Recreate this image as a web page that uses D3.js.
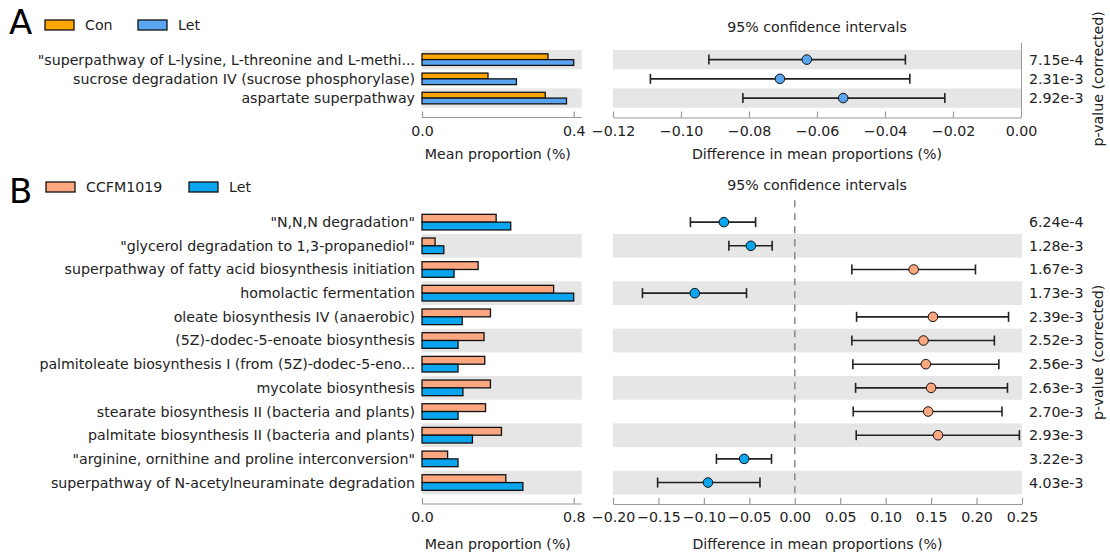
<!DOCTYPE html>
<html>
<head>
<meta charset="utf-8">
<script src="https://cdn.jsdelivr.net/npm/d3@7"></script>
<style>
  html, body { margin: 0; padding: 0; background: #fff; }
  svg text { font-family: "DejaVu Sans", sans-serif; fill: #222; }
</style>
</head>
<body>
<svg id="chart" width="1110" height="554"></svg>
<script>
// ---------- Panel A data ----------
const catsA = [
  '"superpathway of L-lysine, L-threonine and L-methi...',
  'sucrose degradation IV (sucrose phosphorylase)',
  'aspartate superpathway'
];
const conA = [0.332, 0.174, 0.325];
const letA = [0.400, 0.249, 0.381];
const diffA = [-0.063, -0.0709, -0.0523];
const lowA = [-0.0918, -0.109, -0.0818];
const highA = [-0.034, -0.0327, -0.0224];
const pA = ["7.15e-4", "2.31e-3", "2.92e-3"];
const groupsA = ["Con", "Let"];
const leftTicksA = [0.0, 0.4];
const rightTicksA = [-0.12, -0.10, -0.08, -0.06, -0.04, -0.02, 0.00];

// ---------- Panel B data ----------
const catsB = [
  '"N,N,N degradation"',
  '"glycerol degradation to 1,3-propanediol"',
  'superpathway of fatty acid biosynthesis initiation',
  'homolactic fermentation',
  'oleate biosynthesis IV (anaerobic)',
  '(5Z)-dodec-5-enoate biosynthesis',
  'palmitoleate biosynthesis I (from (5Z)-dodec-5-eno...',
  'mycolate biosynthesis',
  'stearate biosynthesis II (bacteria and plants)',
  'palmitate biosynthesis II (bacteria and plants)',
  '"arginine, ornithine and proline interconversion"',
  'superpathway of N-acetylneuraminate degradation'
];
const ccfmB = [0.391, 0.069, 0.296, 0.694, 0.361, 0.327, 0.331, 0.361, 0.335, 0.419, 0.135, 0.442];
const letB  = [0.468, 0.115, 0.169, 0.800, 0.212, 0.190, 0.190, 0.216, 0.190, 0.266, 0.190, 0.532];
const diffB = [-0.078, -0.0483, 0.1308, -0.110, 0.152, 0.1416, 0.1442, 0.150, 0.1468, 0.1576, -0.0557, -0.0955];
const lowB  = [-0.1148, -0.0725, 0.0628, -0.1676, 0.068, 0.0628, 0.0639, 0.0669, 0.0643, 0.0676, -0.0862, -0.1509];
const highB = [-0.0431, -0.0249, 0.1988, -0.0531, 0.2352, 0.2196, 0.2245, 0.234, 0.228, 0.2471, -0.0256, -0.0383];
const pB = ["6.24e-4", "1.28e-3", "1.67e-3", "1.73e-3", "2.39e-3", "2.52e-3", "2.56e-3", "2.63e-3", "2.70e-3", "2.93e-3", "3.22e-3", "4.03e-3"];
const groupsB = ["CCFM1019", "Let"];
const leftTicksB = [0.0, 0.8];
const rightTicksB = [-0.20, -0.15, -0.10, -0.05, 0.00, 0.05, 0.10, 0.15, 0.20, 0.25];

const svg = d3.select("#chart");
const fmtMinus = s => s.replace("-", "\u2212");
const FS = 14.2;

function panel(cfg) {
  const g = svg.append("g");
  const n = cfg.cats.length;
  const idx = d3.range(n);
  const y = d3.scaleBand().domain(idx).range([cfg.top, cfg.bottom]).paddingInner(0).paddingOuter(0);
  const xL = d3.scaleLinear().domain(cfg.leftDomain).range([422, 573.7]);
  const xR = d3.scaleLinear().domain(cfg.rightDomain).range([613, cfg.rightEnd]);
  const leftBandEnd = 581.7;
  const bandColor = "#e6e6e6";

  // panel letter
  g.append("text").attr("x", 9).attr("y", cfg.letterY).attr("font-size", 34).style("fill", "#000").text(cfg.letter);

  // legend
  const lg = g.append("g");
  cfg.groups.forEach((name, i) => {
    const x0 = cfg.legendX[i];
    lg.append("rect").attr("x", x0).attr("y", cfg.legendY - 5).attr("width", 29).attr("height", 10)
      .attr("fill", cfg.colors[i]).attr("stroke", "#111").attr("stroke-width", 1.3);
    lg.append("text").attr("x", x0 + 40).attr("y", cfg.legendY).attr("dy", "0.35em").attr("font-size", FS).text(name);
  });

  // bands
  idx.forEach(i => {
    if (i % 2 === cfg.bandParity) {
      g.append("rect").attr("x", 422).attr("y", y(i)).attr("width", leftBandEnd - 422).attr("height", y.bandwidth()).attr("fill", bandColor);
      g.append("rect").attr("x", 613).attr("y", y(i)).attr("width", cfg.rightEnd - 613).attr("height", y.bandwidth()).attr("fill", bandColor);
    }
  });

  // category labels
  g.selectAll(".cat").data(cfg.cats).join("text")
    .attr("x", 415).attr("y", (d, i) => y(i) + y.bandwidth() / 2).attr("dy", "0.35em")
    .attr("text-anchor", "end").attr("font-size", FS).text(d => d);

  // bars
  const bh = y.bandwidth() * cfg.barFrac;
  const mid = i => y(i) + y.bandwidth() / 2;
  [cfg.v1, cfg.v2].forEach((vals, k) => {
    g.selectAll(".bar" + k).data(vals).join("rect")
      .attr("x", xL(0)).attr("y", (d, i) => k === 0 ? mid(i) - bh : mid(i))
      .attr("width", d => xL(d) - xL(0)).attr("height", bh)
      .attr("fill", cfg.colors[k]).attr("stroke", "#111").attr("stroke-width", 1.3);
  });

  // zero dashed line
  if (cfg.zeroLine) {
    g.append("line").attr("x1", xR(0)).attr("x2", xR(0)).attr("y1", cfg.top - 10).attr("y2", cfg.bottom)
      .attr("stroke", "#888").attr("stroke-width", 1.5).attr("stroke-dasharray", "7,6");
  }
  if (cfg.rightSpine) {
    g.append("line").attr("x1", xR(0) + 0.5).attr("x2", xR(0) + 0.5).attr("y1", cfg.top - 7).attr("y2", cfg.axisY)
      .attr("stroke", "#999").attr("stroke-width", 1);
  }

  // error bars
  const cap = 5;
  idx.forEach(i => {
    const yy = mid(i);
    g.append("line").attr("x1", xR(cfg.low[i])).attr("x2", xR(cfg.high[i])).attr("y1", yy).attr("y2", yy)
      .attr("stroke", "#222").attr("stroke-width", 1.6);
    [cfg.low[i], cfg.high[i]].forEach(v => {
      g.append("line").attr("x1", xR(v)).attr("x2", xR(v)).attr("y1", yy - cap).attr("y2", yy + cap)
        .attr("stroke", "#222").attr("stroke-width", 1.6);
    });
    g.append("circle").attr("cx", xR(cfg.diff[i])).attr("cy", yy).attr("r", 4.8)
      .attr("fill", cfg.diff[i] < 0 ? cfg.colors[1] : cfg.colors[0]).attr("stroke", "#111").attr("stroke-width", 1);
  });

  // p-values
  g.selectAll(".pv").data(cfg.p).join("text")
    .attr("x", 1029).attr("y", (d, i) => mid(i)).attr("dy", "0.35em").attr("font-size", FS).text(d => d);

  // p-value axis label
  g.append("text").attr("transform", `translate(1103,${(cfg.top + cfg.bottom) / 2}) rotate(-90)`)
    .attr("text-anchor", "middle").attr("font-size", FS).text("p-value (corrected)");

  // axes
  const axL = d3.axisBottom(xL).tickValues(cfg.leftTicks).tickFormat(d3.format(".1f")).tickSizeInner(-6).tickSizeOuter(0).tickPadding(8);
  const gL = g.append("g").attr("transform", `translate(0,${cfg.axisY})`).call(axL);
  gL.select(".domain").attr("d", `M422,0H${leftBandEnd}`);
  const axR = d3.axisBottom(xR).tickValues(cfg.rightTicks).tickFormat(d => fmtMinus(d3.format(cfg.rightFmt)(d))).tickSizeInner(-6).tickSizeOuter(0).tickPadding(8);
  const gR = g.append("g").attr("transform", `translate(0,${cfg.axisY})`).call(axR);
  [gL, gR].forEach(a => {
    a.select(".domain").attr("stroke", "#999").attr("stroke-width", 1.2);
    a.selectAll(".tick line").attr("stroke", "#999").attr("stroke-width", 1.2);
    a.selectAll(".tick text").attr("font-size", FS).attr("font-family", "DejaVu Sans").style("fill", "#222");
  });

  g.append("text").attr("x", (422 + 573.7) / 2).attr("y", cfg.titleY).attr("text-anchor", "middle").attr("font-size", FS).text("Mean proportion (%)");
  g.append("text").attr("x", (613 + cfg.rightEnd) / 2).attr("y", cfg.titleY).attr("text-anchor", "middle").attr("font-size", FS).text("Difference in mean proportions (%)");
  g.append("text").attr("x", 817).attr("y", cfg.ciY).attr("dy", "0.35em").attr("text-anchor", "middle").attr("font-size", FS).text("95% confidence intervals");
}

panel({
  letter: "A", letterY: 34, legendY: 25, legendX: [45, 138],
  cats: catsA, v1: conA, v2: letA, diff: diffA, low: lowA, high: highA, p: pA,
  groups: groupsA, colors: ["#FFA500", "#5AA5F2"],
  top: 50, bottom: 107.7, axisY: 117.5, titleY: 159, ciY: 27,
  leftDomain: [0, 0.4], rightDomain: [-0.12, 0], rightEnd: 1021,
  leftTicks: leftTicksA, rightTicks: rightTicksA, rightFmt: ".2f",
  bandParity: 0, barFrac: 0.3, zeroLine: false, rightSpine: true
});

panel({
  letter: "B", letterY: 203, legendY: 187, legendX: [46, 189],
  cats: catsB, v1: ccfmB, v2: letB, diff: diffB, low: lowB, high: highB, p: pB,
  groups: groupsB, colors: ["#FCA780", "#0AA5EF"],
  top: 210.3, bottom: 494.4, axisY: 504, titleY: 549, ciY: 185,
  leftDomain: [0, 0.8], rightDomain: [-0.2, 0.25], rightEnd: 1022,
  leftTicks: leftTicksB, rightTicks: rightTicksB, rightFmt: ".2f",
  bandParity: 1, barFrac: 0.33, zeroLine: true, rightSpine: false
});
</script>
</body>
</html>
